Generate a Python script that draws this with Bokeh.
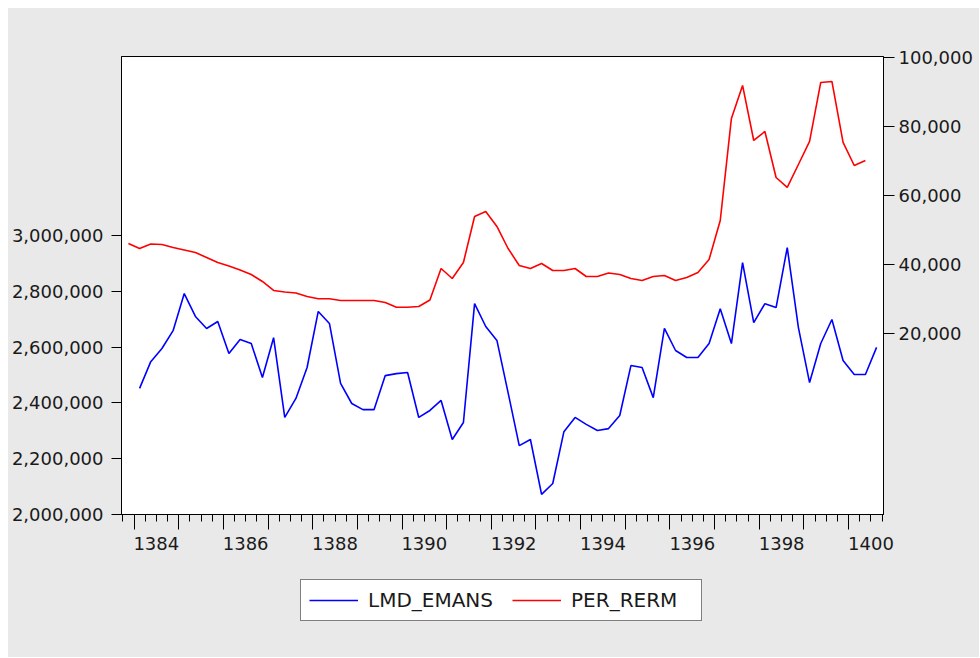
from bokeh.plotting import figure
from bokeh.layouts import column
from bokeh.models import (Range1d, LinearAxis, FixedTicker, NumeralTickFormatter,
                          Legend, LegendItem, ColumnDataSource, CustomJSTickFormatter,
                          CustomLabelingPolicy)
from bokeh.embed import file_html
from bokeh.resources import INLINE

# ---------------- data (quarterly) ----------------
lmd_start = (1384, 1)
lmd_emans = [
    2452000, 2548000, 2595000, 2659000,
    2792000, 2710000, 2667000, 2692000,
    2577000, 2627000, 2613000, 2491000,
    2634000, 2348000, 2416000, 2527000,
    2728000, 2685000, 2470000, 2398000,
    2376000, 2376000, 2498000, 2505000,
    2509000, 2348000, 2373000, 2409000,
    2269000, 2330000, 2756000, 2674000,
    2624000, 2437000, 2247000, 2269000,
    2072000, 2111000, 2297000, 2348000,
    2323000, 2301000, 2308000, 2355000,
    2534000, 2527000, 2419000, 2667000,
    2588000, 2563000, 2563000, 2613000,
    2738000, 2613000, 2903000, 2688000,
    2756000, 2742000, 2957000, 2670000,
    2473000, 2613000, 2699000, 2552000,
    2502000, 2502000, 2599000,
]

per_start = (1383, 4)
per_rerm = [
    46100,
    44640, 45950, 45800, 44930,
    44210, 43480, 42030, 40580,
    39570, 38410, 37100, 35080,
    32470, 32030, 31740, 30730,
    30060, 30060, 29570, 29570,
    29570, 29570, 28990, 27620,
    27620, 27830, 29710, 38840,
    35940, 40580, 53920, 55370,
    51020, 44640, 39710, 38840,
    40290, 38260, 38260, 38840,
    36520, 36520, 37540, 37100,
    35940, 35360, 36520, 36810,
    35360, 36230, 37680, 41450,
    52760, 82330, 91900, 75950,
    78560, 65220, 62330, 68990,
    75660, 92770, 93050, 75370,
    68700, 70150,
]

series_names = ["LMD_EMANS", "PER_RERM"]
series_colors = ["#0000ff", "#ff0000"]
year_ticks = list(range(1384, 1401))
label_years = list(range(1384, 1401, 2))
left_ticks = [2000000, 2200000, 2400000, 2600000, 2800000, 3000000]
right_ticks = [20000, 40000, 60000, 80000, 100000]


def quarter_labels(start, n):
    y, q = start
    out = []
    for _ in range(n):
        out.append(f"{y}Q{q}")
        q += 1
        if q > 4:
            q, y = 1, y + 1
    return out


def period_pos(p):
    y, q = p.split("Q")
    return int(y) + (int(q) - 1) / 4 + 0.125


lmd_periods = quarter_labels(lmd_start, len(lmd_emans))
per_periods = quarter_labels(per_start, len(per_rerm))

src_lmd = ColumnDataSource(dict(x=[period_pos(p) for p in lmd_periods], y=lmd_emans))
src_per = ColumnDataSource(dict(x=[period_pos(p) for p in per_periods], y=per_rerm))
sources = [src_lmd, src_per]

FONT = "DejaVu Sans"
TXT = "#1a1a1a"
BG = "#e9e9e9"
LW = 1.6

p = figure(frame_width=762, frame_height=458,
           x_range=Range1d(1383.72, 1400.78),
           y_range=Range1d(2000000, 3642000),
           x_axis_type=None, y_axis_type=None,
           output_backend="svg", toolbar_location=None,
           min_border_left=113, min_border_right=96,
           min_border_top=48, min_border_bottom=52,
           border_fill_color=BG, background_fill_color="white",
           outline_line_color="black", outline_line_width=1)
p.grid.visible = False
p.extra_y_ranges = {"right": Range1d(-32465, 100290)}

p.line("x", "y", source=src_lmd, line_color=series_colors[0], line_width=LW)
p.line("x", "y", source=src_per, line_color=series_colors[1], line_width=LW,
       y_range_name="right")

left_axis = LinearAxis(ticker=FixedTicker(ticks=left_ticks, minor_ticks=[]),
                       formatter=NumeralTickFormatter(format="0,0"),
                       major_tick_out=10, major_tick_in=0,
                       major_label_standoff=8,
                       major_label_text_font=FONT, major_label_text_font_size="18px",
                       major_label_text_color=TXT,
                       axis_line_color="black", major_tick_line_color="black")
p.add_layout(left_axis, "left")

right_axis = LinearAxis(y_range_name="right",
                        ticker=FixedTicker(ticks=right_ticks, minor_ticks=[]),
                        formatter=NumeralTickFormatter(format="0,0"),
                        major_tick_out=11, major_tick_in=0,
                        major_label_standoff=4,
                        major_label_text_font=FONT, major_label_text_font_size="18px",
                        major_label_text_color=TXT,
                        axis_line_color="black", major_tick_line_color="black")
p.add_layout(right_axis, "right")

# tick marks only (years long, quarters short); its labels are suppressed
quarter_ticks = [y + k / 4 for y in range(1383, 1401) for k in range(4)]
hide_all = CustomLabelingPolicy(code="return new Set()")
x_tick_axis = LinearAxis(ticker=FixedTicker(ticks=year_ticks, minor_ticks=quarter_ticks),
                         major_label_policy=hide_all,
                         major_tick_out=15, major_tick_in=0,
                         minor_tick_out=7, minor_tick_in=0,
                         major_label_standoff=0, major_label_text_font_size="1px",
                         axis_line_color="black", major_tick_line_color="black",
                         minor_tick_line_color="black")
p.add_layout(x_tick_axis, "below")

# year labels, centred on each labelled year
x_label_axis = LinearAxis(ticker=FixedTicker(ticks=[y + 0.5 for y in label_years], minor_ticks=[]),
                          formatter=CustomJSTickFormatter(code="return Math.floor(tick).toString();"),
                          major_tick_out=0, major_tick_in=0,
                          major_label_standoff=3,
                          major_label_text_font=FONT, major_label_text_font_size="18px",
                          major_label_text_color=TXT,
                          axis_line_color=None, major_tick_line_color=None,
                          minor_tick_line_color=None)
p.add_layout(x_label_axis, "below")

# ---------------- legend strip below the chart ----------------
leg_fig = figure(frame_width=971, frame_height=91,
                 x_axis_type=None, y_axis_type=None,
                 output_backend="svg", toolbar_location=None,
                 min_border=0, min_border_left=0, min_border_right=0,
                 min_border_top=0, min_border_bottom=0,
                 border_fill_color=BG, border_fill_alpha=0,
                 background_fill_color=BG, background_fill_alpha=0,
                 outline_line_color=None)
leg_fig.grid.visible = False
# hidden copies of the series: they only supply the legend swatches
swatches = [leg_fig.line("x", "y", source=s, line_color=c, line_width=LW, visible=False)
            for s, c in zip(sources, series_colors)]

legend = Legend(items=[LegendItem(label=n, renderers=[r]) for n, r in zip(series_names, swatches)],
                orientation="horizontal", location=(292, 36),
                padding=8, spacing=19, glyph_width=49, glyph_height=20,
                label_standoff=10, label_width=122,
                label_text_font=FONT, label_text_font_size="20px",
                label_text_color=TXT,
                inactive_fill_alpha=0,
                border_line_color="black", border_line_width=1.5,
                background_fill_color="white", background_fill_alpha=1.0,
                margin=0)
leg_fig.add_layout(legend, "center")

layout = column(p, leg_fig, spacing=0, margin=(8, 0, 0, 8),
                styles={"background-color": BG})

open("out.html", "w").write(file_html(layout, INLINE))
